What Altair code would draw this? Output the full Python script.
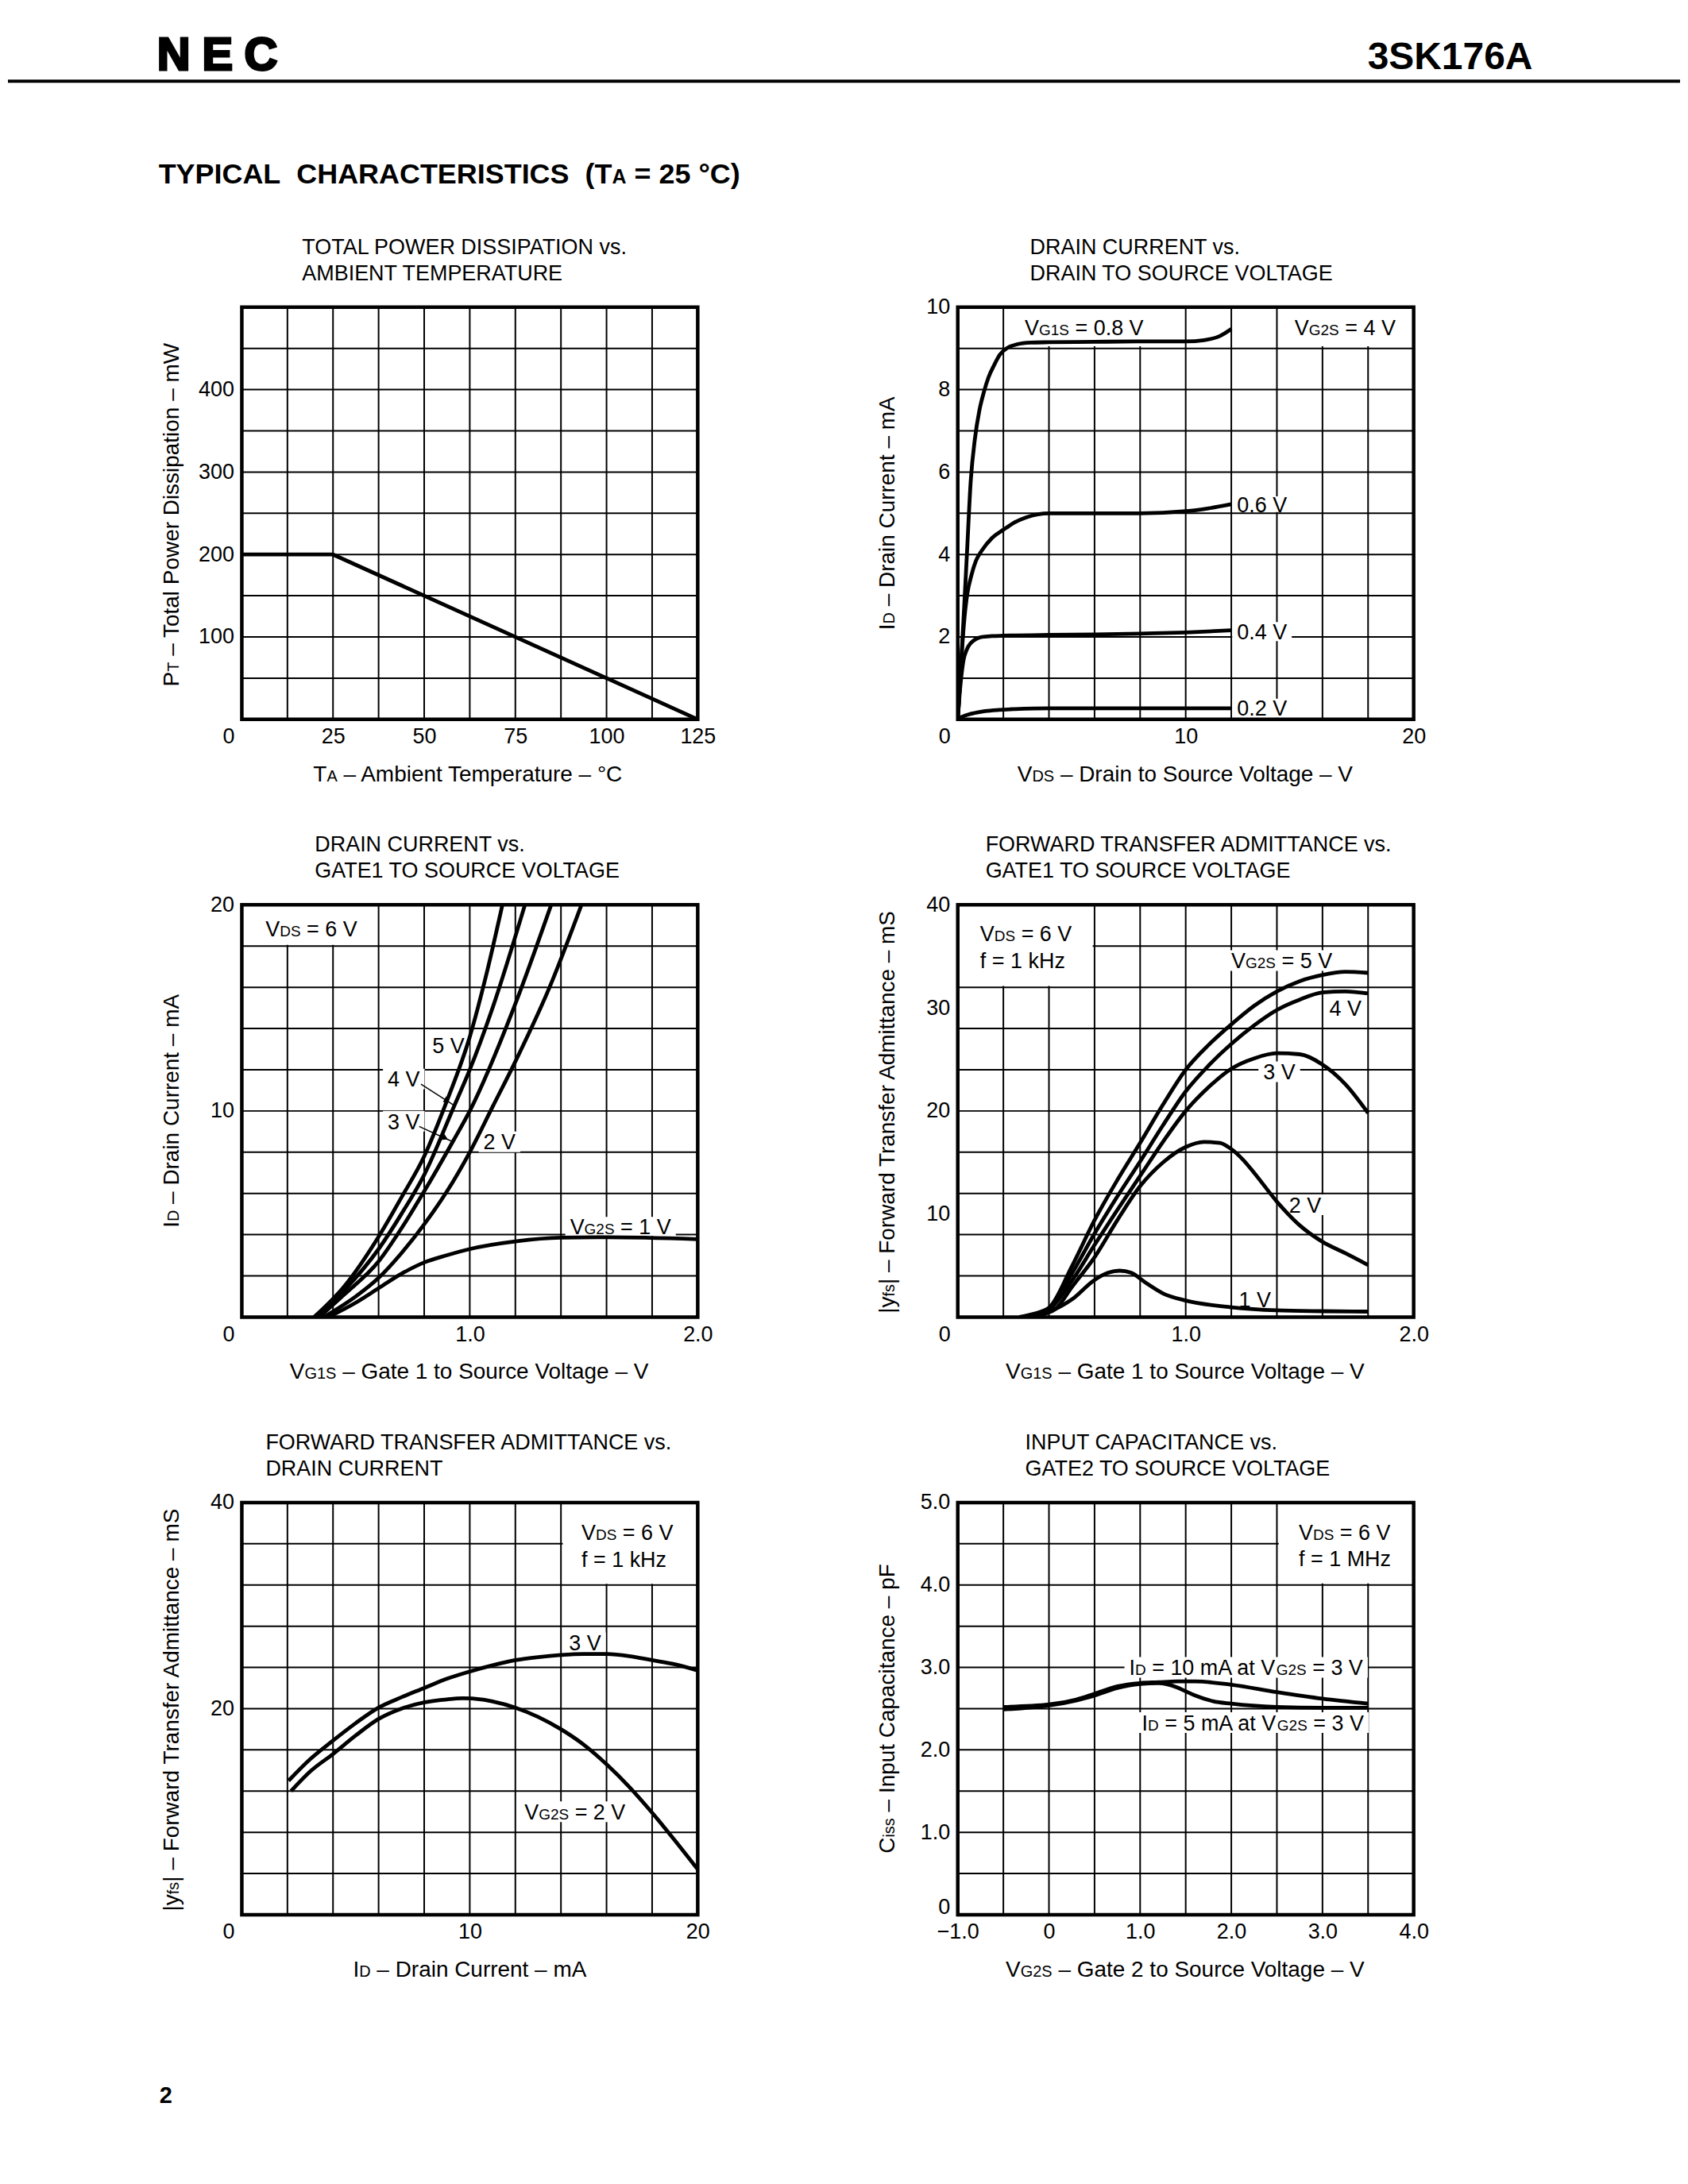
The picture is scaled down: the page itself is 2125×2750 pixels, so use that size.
import altair as alt
import pandas as pd

FONT = "Liberation Sans, Arial, Helvetica, sans-serif"
W, H = 575, 520
ONE = pd.DataFrame({"k": [0]})
TS = 27      # annotation text size
SS = 19      # subscript size in annotations
AT = 28      # axis title size
AS = 20      # axis title subscript size

# ---------------- data ----------------
# 1. Total power dissipation vs ambient temperature
ta_c = [0, 25, 125]
pt_mw = [200, 200, 0]

# 2. Drain current vs drain-source voltage (VG2S = 4 V)
vds_08 = [0, 0.1, 0.25, 0.4, 0.57, 0.75, 0.95, 1.15, 1.35, 1.6, 1.85, 2.2, 2.6, 3.2, 4, 6, 8, 10, 10.8, 11.5, 12]
id_08 = [0, 0.9, 2.4, 4.0, 5.8, 6.8, 7.5, 7.95, 8.3, 8.6, 8.85, 9.02, 9.1, 9.14, 9.15, 9.16, 9.17, 9.17, 9.2, 9.3, 9.47]
vds_06 = [0, 0.1, 0.2, 0.3, 0.42, 0.6, 0.8, 1.06, 1.5, 2.0, 2.5, 3.0, 4.0, 6, 8, 10, 11, 12]
id_06 = [0, 0.9, 1.8, 2.5, 3.05, 3.5, 3.85, 4.1, 4.4, 4.6, 4.78, 4.9, 5.0, 5.0, 5.0, 5.05, 5.12, 5.22]
vds_04 = [0, 0.08, 0.24, 0.4, 0.57, 0.8, 1.06, 1.5, 2, 4, 6, 8, 10, 12]
id_04 = [0, 0.6, 1.4, 1.7, 1.85, 1.95, 2.0, 2.02, 2.03, 2.05, 2.06, 2.08, 2.11, 2.16]
vds_02 = [0, 0.3, 0.7, 1.2, 1.8, 2.5, 4, 8, 12]
id_02 = [0.02, 0.09, 0.15, 0.2, 0.23, 0.25, 0.27, 0.27, 0.27]

# 3. Drain current vs gate1-source voltage (VDS = 6 V)
vg1_5v = [0.317, 0.45, 0.6, 0.7, 0.8, 0.9, 1.0, 1.07, 1.143]
id_5v = [0, 1.5, 3.9, 5.8, 7.8, 10.5, 13.6, 16.5, 20]
vg1_4v = [0.33, 0.45, 0.6, 0.7, 0.8, 0.93, 1.0, 1.1, 1.242]
id_4v = [0, 1.3, 3.3, 5.0, 6.9, 10.2, 12.0, 15.0, 20]
vg1_3v = [0.34, 0.45, 0.6, 0.7, 0.8, 0.93, 1.0, 1.2, 1.357]
id_3v = [0, 1.1, 2.7, 4.3, 6.1, 8.6, 10.0, 15.2, 20]
vg1_2v = [0.36, 0.5, 0.6, 0.7, 0.8, 0.9, 1.0, 1.1, 1.2, 1.35, 1.49]
id_2v = [0, 1.0, 1.9, 3.1, 4.5, 6.1, 8.0, 10.2, 12.4, 16.0, 20]
vg1_1v = [0.38, 0.5, 0.6, 0.7, 0.8, 0.9, 1.0, 1.2, 1.4, 1.6, 2.0]
id_1v = [0, 0.7, 1.4, 2.1, 2.65, 3.0, 3.3, 3.67, 3.85, 3.87, 3.78]
arrow4_x = [0.786, 0.934]
arrow4_y = [11.3, 10.25]
arrow3_x = [0.778, 0.926]
arrow3_y = [9.25, 8.5]

# 4. |yfs| vs gate1-source voltage
yv_5v_x = [0.27, 0.33, 0.4, 0.5, 0.6, 0.7, 0.8, 0.9, 1.0, 1.1, 1.2, 1.3, 1.4, 1.5, 1.6, 1.7, 1.8]
yv_5v_y = [0, 0.3, 0.9, 4.9, 9.4, 13.3, 16.9, 20.6, 24.0, 26.4, 28.4, 30.2, 31.6, 32.6, 33.2, 33.5, 33.4]
yv_4v_x = [0.29, 0.35, 0.4, 0.5, 0.6, 0.7, 0.8, 0.9, 1.0, 1.1, 1.2, 1.3, 1.4, 1.5, 1.6, 1.7, 1.8]
yv_4v_y = [0, 0.3, 0.8, 4.2, 8.1, 11.7, 15.1, 18.6, 21.9, 24.4, 26.5, 28.3, 29.8, 30.8, 31.5, 31.6, 31.4]
yv_3v_x = [0.31, 0.36, 0.4, 0.5, 0.6, 0.7, 0.8, 0.9, 1.0, 1.1, 1.2, 1.3, 1.4, 1.5, 1.6, 1.7, 1.8]
yv_3v_y = [0, 0.3, 0.7, 3.5, 7.0, 10.4, 13.7, 17.0, 20.0, 22.3, 24.1, 25.1, 25.6, 25.5, 24.5, 22.6, 19.8]
yv_2v_x = [0.33, 0.38, 0.43, 0.5, 0.6, 0.7, 0.8, 0.9, 1.0, 1.08, 1.15, 1.2, 1.25, 1.3, 1.4, 1.5, 1.6, 1.7, 1.8]
yv_2v_y = [0, 0.3, 0.8, 2.9, 5.8, 9.4, 12.7, 15.0, 16.5, 17.0, 16.9, 16.3, 15.3, 14.0, 11.2, 8.9, 7.3, 6.2, 5.05]
yv_1v_x = [0.33, 0.4, 0.5, 0.6, 0.66, 0.71, 0.76, 0.82, 0.9, 1.0, 1.2, 1.4, 1.6, 1.8]
yv_1v_y = [0, 0.5, 1.7, 3.6, 4.3, 4.5, 4.3, 3.4, 2.3, 1.6, 0.95, 0.65, 0.57, 0.53]

# 5. |yfs| vs drain current
yi_3v_x = [2.05, 3, 4, 5, 6, 7, 8, 9, 10, 11, 12, 13, 14, 15, 16, 17, 18, 19, 20]
yi_3v_y = [13.0, 15.1, 16.9, 18.6, 20.1, 21.1, 22.0, 22.9, 23.6, 24.2, 24.7, 25.0, 25.2, 25.3, 25.3, 25.1, 24.7, 24.3, 23.7]
yi_2v_x = [2.16, 3, 4, 5, 6, 7, 8, 9, 9.7, 10.5, 11, 12, 13, 14, 15, 16, 17, 18, 19, 20]
yi_2v_y = [12.0, 13.9, 15.6, 17.4, 19.0, 20.0, 20.6, 20.9, 21.0, 20.9, 20.7, 20.1, 19.2, 18.0, 16.5, 14.6, 12.4, 9.9, 7.2, 4.4]

# 6. Input capacitance vs gate2-source voltage
ci_10_x = [-0.5, 0, 0.3, 0.5, 0.75, 1.0, 1.2, 1.4, 1.6, 2.0, 2.5, 3.0, 3.5]
ci_10_y = [2.52, 2.55, 2.61, 2.68, 2.77, 2.81, 2.82, 2.83, 2.83, 2.79, 2.70, 2.62, 2.56]
ci_5_x = [-0.5, 0, 0.3, 0.5, 0.75, 1.0, 1.2, 1.4, 1.5, 1.6, 1.8, 2.0, 2.5, 3.0, 3.5]
ci_5_y = [2.49, 2.54, 2.60, 2.66, 2.75, 2.80, 2.81, 2.76, 2.71, 2.66, 2.59, 2.56, 2.52, 2.51, 2.51]

# ---------------- text metrics (Arial / Liberation Sans) ----------------
AW = {" ": 278, "\u00a0": 278, "!": 278, "(": 333, ")": 333, ",": 278, "-": 333, ".": 278, "/": 278,
      ":": 278, "=": 584, "|": 260, "\u2013": 556, "\u2212": 584, "\u00b0": 400}
for c in "0123456789":
    AW[c] = 556
for c, w in zip("ABCDEFGHIJKLMNOPQRSTUVWXYZ",
                [667, 667, 722, 722, 667, 611, 778, 722, 278, 500, 667, 556, 833, 722, 778, 667, 778, 722, 667, 611, 722, 667, 944, 667, 667, 611]):
    AW[c] = w
for c, w in zip("abcdefghijklmnopqrstuvwxyz",
                [556, 556, 500, 556, 556, 278, 556, 556, 222, 222, 500, 222, 833, 556, 556, 556, 556, 333, 500, 278, 556, 500, 722, 500, 500, 500]):
    AW[c] = w
BW = dict(AW)
for c, w in zip("ABCDEFGHIJKLMNOPQRSTUVWXYZ",
                [722, 722, 722, 722, 667, 611, 778, 722, 278, 556, 722, 611, 833, 722, 778, 667, 778, 722, 667, 611, 722, 667, 944, 667, 667, 611]):
    BW[c] = w


def tw(s, size, bold=False):
    tbl = BW if bold else AW
    return sum(tbl.get(c, 556) for c in s) * size / 1000.0


def text_px(txt, x, y, size, bold=False, angle=0, align="left", color="black", stroke=None):
    kw = dict(text=txt, align=align, baseline="alphabetic", font=FONT, fontSize=size,
              fontWeight="bold" if bold else "normal", color=color, angle=angle)
    if stroke:
        kw.update(stroke=color, strokeWidth=stroke)
    return alt.Chart(ONE).mark_text(**kw).encode(x=alt.value(x), y=alt.value(y))


def rich_px(parts, x0, y0, bold=False, align="left", angle=0):
    total = sum(tw(t, s, bold) for t, s in parts)
    start = {"left": 0, "center": -total / 2, "right": -total}[align]
    layers, cum = [], start
    for t, s in parts:
        lead = len(t) - len(t.lstrip(" "))
        off = cum + tw(" " * lead, s, bold)
        txt = t.strip(" ")
        if txt:
            if angle == 0:
                layers.append(text_px(txt, x0 + off, y0, s, bold))
            else:
                layers.append(text_px(txt, x0, y0 - off, s, bold, angle=270))
        cum += tw(t, s, bold)
    return layers


def rich_data(parts, x, y, X, Y):
    main = max(s for _, s in parts)
    dy = round(0.716 * main / 2, 1)
    df = pd.DataFrame({"x": [x], "y": [y]})
    layers, cum = [], 0.0
    for t, s in parts:
        lead = len(t) - len(t.lstrip(" "))
        off = cum + tw(" " * lead, s)
        txt = t.strip(" ")
        if txt:
            layers.append(alt.Chart(df).mark_text(text=txt, align="left", baseline="alphabetic", dx=round(off, 1),
                                                  dy=dy, font=FONT, fontSize=s, color="black")
                          .encode(x=X("x"), y=Y("y")))
        cum += tw(t, s)
    return layers, cum


def zero_offset(v):
    return {"condition": {"test": "datum.value === 0", "value": v}, "value": 0}


def build(spec):
    (x0, x1), (y0, y1) = spec["xdom"], spec["ydom"]
    kx, ky = W / (x1 - x0), H / (y1 - y0)
    xs = alt.Scale(domain=[x0, x1], nice=False, zero=False)
    ys = alt.Scale(domain=[y0, y1], nice=False, zero=False)
    common = dict(grid=False, ticks=False, domain=False, tickSize=0, labelFont=FONT, labelFontSize=27,
                  labelColor="black", labelFlush=False, labelOverlap=False, title=None)
    xa = alt.Axis(values=spec["xvals"], labelPadding=9, **common, **spec.get("xextra", {}))
    ya = alt.Axis(values=spec["yvals"], labelPadding=10, **common, **spec.get("yextra", {}))

    def X(f):
        return alt.X(f, type="quantitative", scale=xs, axis=xa)

    def Y(f):
        return alt.Y(f, type="quantitative", scale=ys, axis=ya)

    layers = []
    layers.append(alt.Chart(pd.DataFrame({"gx": spec["xgrid"]})).mark_rule(color="black", strokeWidth=2)
                  .encode(x=X("gx")))
    layers.append(alt.Chart(pd.DataFrame({"gy": spec["ygrid"]})).mark_rule(color="black", strokeWidth=2)
                  .encode(y=Y("gy")))

    # white backgrounds (legend boxes + label boxes)
    boxes = [dict(bx1=b[0], bx2=b[1], by1=b[2], by2=b[3]) for b in spec.get("legend_boxes", [])]
    note_layers = []
    for note in spec.get("notes", []):
        parts, nx, ny, box = note[0], note[1], note[2], note[3]
        ls, total = rich_data(parts, nx, ny, X, Y)
        note_layers += ls
        if box:
            vp = box
            boxes.append(dict(bx1=nx - 6 / kx, bx2=nx + (total + 6) / kx, by1=ny - vp / ky, by2=ny + vp / ky))
    if boxes:
        layers.append(alt.Chart(pd.DataFrame(boxes)).mark_rect(color="white")
                      .encode(x=X("bx1"), x2="bx2", y=Y("by1"), y2="by2"))

    rows = []
    for name, cx, cy in spec["curves"]:
        for a, b in zip(cx, cy):
            rows.append({"x": a, "y": b, "s": name})
    layers.append(alt.Chart(pd.DataFrame(rows)).mark_line(color="black", strokeWidth=4.8,
                                                           interpolate=spec.get("interp", "monotone"), clip=True)
                  .encode(x=X("x"), y=Y("y"), detail="s:N"))

    for ar in spec.get("arrows", []):
        ax, ay, hx, hy, ang = ar
        layers.append(alt.Chart(pd.DataFrame({"x": ax, "y": ay})).mark_line(color="black", strokeWidth=1.5)
                      .encode(x=X("x"), y=Y("y")))
        layers.append(alt.Chart(pd.DataFrame({"x": [hx], "y": [hy]}))
                      .mark_point(shape="triangle-up", filled=True, color="black", size=70, angle=ang, opacity=1)
                      .encode(x=X("x"), y=Y("y")))

    layers += note_layers

    layers.append(alt.Chart(pd.DataFrame({"fx1": [x0], "fx2": [x1], "fy1": [y0], "fy2": [y1]}))
                  .mark_rect(fillOpacity=0, stroke="black", strokeWidth=4.5)
                  .encode(x=X("fx1"), x2="fx2", y=Y("fy1"), y2="fy2"))

    # chart title (two lines)
    l1, l2 = spec["title"]
    layers.append(text_px(l1, spec["tdx"], -67, 27))
    layers.append(text_px(l2, spec["tdx"], -34, 27))
    # axis titles
    layers += rich_px(spec["xtitle"], W / 2, H + 78, align="center")
    ytot = sum(tw(t, s) for t, s in spec["ytitle"])
    layers += rich_px(spec["ytitle"], -80, H / 2 + ytot / 2, angle=270)
    layers += spec.get("extra", [])
    return alt.layer(*layers).properties(width=W, height=H)


def lbl(t, size=TS):
    return [(t, size)]


def sub(main, s, rest):
    return [(main, TS), (s, SS), (rest, TS)]


def atitle(main, s, rest):
    return [(main, AT), (s, AS), (rest, AT)]


header = [
    alt.Chart(ONE).mark_rule(color="white", strokeWidth=1).encode(x=alt.value(0), x2=alt.value(10), y=alt.value(-376)),
    alt.Chart(ONE).mark_rule(color="black", strokeWidth=4).encode(x=alt.value(-295), x2=alt.value(1814), y=alt.value(-285)),
    text_px("N", -107, -299, 58, bold=True, stroke=3),
    text_px("E", -50, -299, 58, bold=True, stroke=3),
    text_px("C", 3, -299, 58, bold=True, stroke=3),
    text_px("3SK176A", 1628, -300, 48, bold=True, align="right"),
] + rich_px([("TYPICAL\u00a0\u00a0CHARACTERISTICS\u00a0\u00a0(T", 36), ("A", 25), (" = 25 \u00b0C)", 36)],
            -105, -156, bold=True)

page_no = [text_px("2", -104, 757, 29, bold=True)]

YFS_TITLE = [("|y", AT), ("fs", AS), ("|", AT), (" \u2013 Forward Transfer Admittance \u2013 mS", AT)]
ID_TITLE = atitle("I", "D", " \u2013 Drain Current \u2013 mA")
VG1_TITLE = atitle("V", "G1S", " \u2013 Gate 1 to Source Voltage \u2013 V")

specs = [
    dict(xdom=(0, 125), ydom=(0, 500),
         xgrid=[12.5, 25, 37.5, 50, 62.5, 75, 87.5, 100, 112.5],
         ygrid=[50, 100, 150, 200, 250, 300, 350, 400, 450],
         xvals=[0, 25, 50, 75, 100, 125], yvals=[100, 200, 300, 400],
         xextra=dict(labelOffset=zero_offset(-17)),
         curves=[("pt", ta_c, pt_mw)], interp="linear",
         title=("TOTAL POWER DISSIPATION vs.", "AMBIENT TEMPERATURE"), tdx=76,
         xtitle=atitle("T", "A", " \u2013 Ambient Temperature \u2013 \u00b0C"),
         ytitle=atitle("P", "T", " \u2013 Total Power Dissipation \u2013 mW"),
         extra=header),
    dict(xdom=(0, 20), ydom=(0, 10),
         xgrid=[2, 4, 6, 8, 10, 12, 14, 16, 18], ygrid=[1, 2, 3, 4, 5, 6, 7, 8, 9],
         xvals=[0, 10, 20], yvals=[2, 4, 6, 8, 10],
         xextra=dict(labelOffset=zero_offset(-17)),
         curves=[("0.8", vds_08, id_08), ("0.6", vds_06, id_06), ("0.4", vds_04, id_04), ("0.2", vds_02, id_02)],
         legend_boxes=[(2.3, 9.6, 9.05, 9.97), (14.1, 19.97, 9.05, 9.97)],
         notes=[(sub("V", "G1S", " = 0.8 V"), 2.94, 9.5, None), (sub("V", "G2S", " = 4 V"), 14.78, 9.5, None),
                (lbl("0.6 V"), 12.25, 5.22, 10), (lbl("0.4 V"), 12.25, 2.13, 12), (lbl("0.2 V"), 12.25, 0.27, 12)],
         title=("DRAIN CURRENT vs.", "DRAIN TO SOURCE VOLTAGE"), tdx=91,
         xtitle=atitle("V", "DS", " \u2013 Drain to Source Voltage \u2013 V"),
         ytitle=ID_TITLE),
    dict(xdom=(0, 2), ydom=(0, 20),
         xgrid=[0.2, 0.4, 0.6, 0.8, 1.0, 1.2, 1.4, 1.6, 1.8], ygrid=[2, 4, 6, 8, 10, 12, 14, 16, 18],
         xvals=[0, 1, 2], yvals=[10, 20],
         xextra=dict(labelOffset=zero_offset(-17), labelExpr="datum.value === 0 ? '0' : format(datum.value, '.1f')"),
         curves=[("5", vg1_5v, id_5v), ("4", vg1_4v, id_4v), ("3", vg1_3v, id_3v), ("2", vg1_2v, id_2v),
                 ("1", vg1_1v, id_1v)],
         legend_boxes=[(0.0, 0.592, 18.06, 20)],
         notes=[(sub("V", "DS", " = 6 V"), 0.104, 18.85, None), (lbl("5 V"), 0.836, 13.2, 13),
                (lbl("4 V"), 0.64, 11.55, 13), (lbl("3 V"), 0.64, 9.5, 13), (lbl("2 V"), 1.06, 8.5, 13),
                (sub("V", "G2S", " = 1 V"), 1.44, 4.4, 12)],
         arrows=[(arrow4_x, arrow4_y, 0.9, 10.5, 119), (arrow3_x, arrow3_y, 0.893, 8.68, 116)],
         title=("DRAIN CURRENT vs.", "GATE1 TO SOURCE VOLTAGE"), tdx=92,
         xtitle=VG1_TITLE, ytitle=ID_TITLE),
    dict(xdom=(0, 2), ydom=(0, 40),
         xgrid=[0.2, 0.4, 0.6, 0.8, 1.0, 1.2, 1.4, 1.6, 1.8], ygrid=[4, 8, 12, 16, 20, 24, 28, 32, 36],
         xvals=[0, 1, 2], yvals=[10, 20, 30, 40],
         xextra=dict(labelOffset=zero_offset(-17), labelExpr="datum.value === 0 ? '0' : format(datum.value, '.1f')"),
         curves=[("5", yv_5v_x, yv_5v_y), ("4", yv_4v_x, yv_4v_y), ("3", yv_3v_x, yv_3v_y),
                 ("2", yv_2v_x, yv_2v_y), ("1", yv_1v_x, yv_1v_y)],
         legend_boxes=[(0.0, 0.592, 32.12, 40)],
         notes=[(sub("V", "DS", " = 6 V"), 0.098, 37.2, None), (lbl("f = 1 kHz"), 0.098, 34.6, None),
                (sub("V", "G2S", " = 5 V"), 1.2, 34.6, 13), (lbl("4 V"), 1.63, 29.95, 13),
                (lbl("3 V"), 1.34, 23.8, 13), (lbl("2 V"), 1.453, 10.9, 13), (lbl("1 V"), 1.233, 1.7, 12)],
         title=("FORWARD TRANSFER ADMITTANCE vs.", "GATE1 TO SOURCE VOLTAGE"), tdx=35,
         xtitle=VG1_TITLE, ytitle=YFS_TITLE),
    dict(xdom=(0, 20), ydom=(0, 40),
         xgrid=[2, 4, 6, 8, 10, 12, 14, 16, 18], ygrid=[4, 8, 12, 16, 20, 24, 28, 32, 36],
         xvals=[0, 10, 20], yvals=[20, 40],
         xextra=dict(labelOffset=zero_offset(-17)),
         curves=[("3", yi_3v_x, yi_3v_y), ("2", yi_2v_x, yi_2v_y)],
         legend_boxes=[(14.08, 20, 32.12, 40)],
         notes=[(sub("V", "DS", " = 6 V"), 14.9, 37.1, None), (lbl("f = 1 kHz"), 14.9, 34.5, None),
                (lbl("3 V"), 14.35, 26.4, 13), (sub("V", "G2S", " = 2 V"), 12.4, 10.0, 13)],
         title=("FORWARD TRANSFER ADMITTANCE vs.", "DRAIN CURRENT"), tdx=30,
         xtitle=ID_TITLE, ytitle=YFS_TITLE,
         extra=page_no),
    dict(xdom=(-1, 4), ydom=(0, 5),
         xgrid=[-0.5, 0, 0.5, 1.0, 1.5, 2.0, 2.5, 3.0, 3.5], ygrid=[0.5, 1, 1.5, 2, 2.5, 3, 3.5, 4, 4.5],
         xvals=[-1, 0, 1, 2, 3, 4], yvals=[0, 1, 2, 3, 4, 5],
         xextra=dict(labelExpr="datum.value === 0 ? '0' : (datum.value < 0 ? '\u2212' + format(-datum.value, '.1f') : format(datum.value, '.1f'))"),
         yextra=dict(labelOffset=zero_offset(-9), labelExpr="datum.value === 0 ? '0' : format(datum.value, '.1f')"),
         curves=[("10", ci_10_x, ci_10_y), ("5", ci_5_x, ci_5_y)],
         legend_boxes=[(2.52, 4.0, 4.02, 5.0)],
         notes=[(sub("V", "DS", " = 6 V"), 2.74, 4.64, None), (lbl("f = 1 MHz"), 2.74, 4.32, None),
                ([("I", TS), ("D", SS), (" = 10 mA at V", TS), ("G2S", SS), (" = 3 V", TS)], 0.88, 3.0, 13),
                ([("I", TS), ("D", SS), (" = 5 mA at V", TS), ("G2S", SS), (" = 3 V", TS)], 1.02, 2.33, 13)],
         title=("INPUT CAPACITANCE vs.", "GATE2 TO SOURCE VOLTAGE"), tdx=85,
         xtitle=atitle("V", "G2S", " \u2013 Gate 2 to Source Voltage \u2013 V"),
         ytitle=atitle("C", "iss", " \u2013 Input Capacitance \u2013 pF")),
]

panels = [build(s) for s in specs]

chart = alt.concat(*panels, columns=2, spacing={"row": 234, "column": 328}, bounds="flush").properties(
    padding=0, background="white"
).configure_view(stroke=None)

chart.save("out.html", embed_options={"renderer": "svg", "actions": False})
